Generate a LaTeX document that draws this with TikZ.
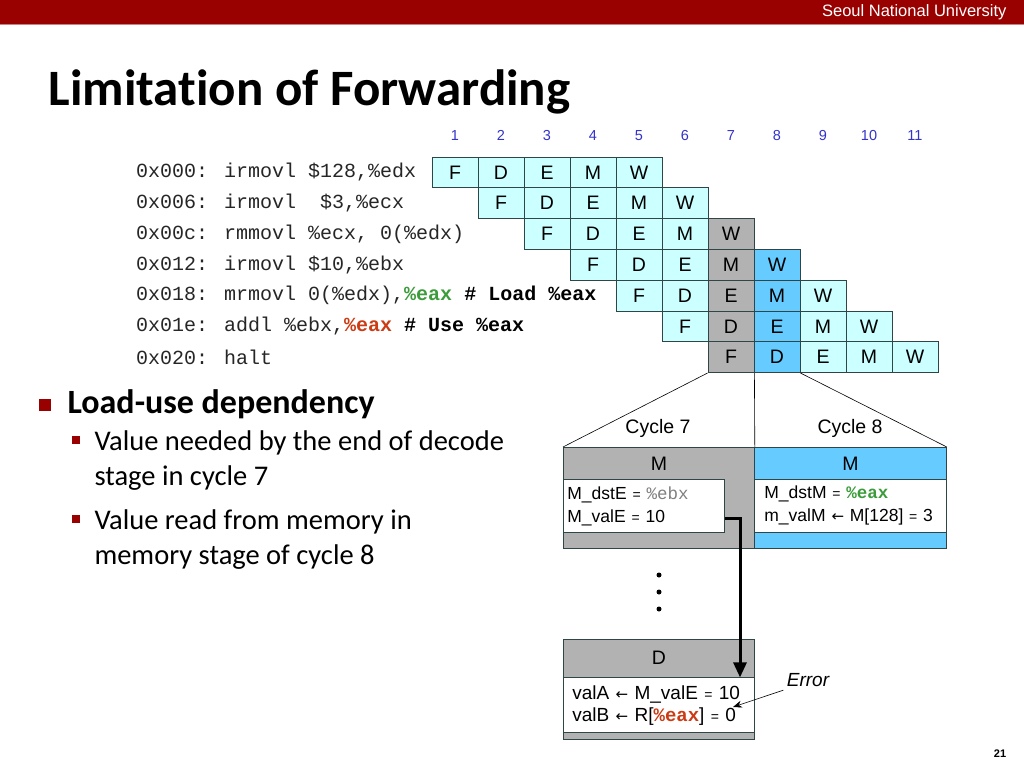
\documentclass[tikz,border=0pt]{standalone}
\usepackage{fontspec}
\setmainfont{Carlito}[Ligatures=NoCommon]
\newfontfamily\arialfont{Liberation Sans}
\newfontfamily\courfont{Liberation Mono}
\newfontfamily\symfont{DejaVu Sans}
\usetikzlibrary{positioning,arrows.meta}
\definecolor{snured}{HTML}{990000}
\definecolor{stagecyan}{HTML}{CCFFFF}
\definecolor{stagegray}{HTML}{B2B2B2}
\definecolor{stageblue}{HTML}{66CCFF}
\definecolor{cyclenum}{HTML}{3333CC}
\definecolor{eaxgreen}{HTML}{3C9C3C}
\definecolor{eaxred}{HTML}{CC3C14}
\definecolor{cellline}{HTML}{2F4646}
\newcommand\lar{{\symfont\fontsize{15}{15}\selectfont ←}}
\newcommand\smeq{{\fontsize{14}{14}\selectfont =}}

\begin{document}
\begin{tikzpicture}[x=1pt,y=-1pt,
	cell/.style={draw=cellline, line width=0.8pt, minimum width=46pt, minimum height=30.8pt,
		inner sep=0pt, font=\arialfont\fontsize{19.5}{20}\selectfont},
	cycnum/.style={text=cyclenum, inner sep=0pt, anchor=base, font=\arialfont\fontsize{14.5}{16}\selectfont},
	codeline/.style={anchor=west, inner sep=0pt, text=black!85, font=\courfont\fontsize{20}{22}\selectfont},
	stagebox/.style={draw=cellline, line width=0.8pt, anchor=north west, inner sep=0pt},
	stagehead/.style={anchor=north, inner sep=0pt, font=\arialfont\fontsize{19.5}{20}\selectfont},
	inbox/.style={draw=cellline, line width=0.8pt, fill=white, anchor=north west, align=left,
		font=\arialfont\fontsize{17.5}{23}\selectfont},
	dot/.style={circle, fill=black, inner sep=0pt, minimum size=5pt},
	fwd/.style={line width=3pt, -{Triangle[length=15pt,width=13pt]}}]
% page and header
\fill[white] (0,0) rectangle (1024,768);
\useasboundingbox (0,0) rectangle (1024,768);
\fill[snured] (0,0) rectangle (1024,24);
\draw[snured!50, line width=1pt] (0,25) -- (1024,25);
\node[anchor=east, text=white, font=\arialfont\fontsize{16.5}{18}\selectfont] (uni) at (1010,12) {Seoul National University};
\node[anchor=west, font=\fontsize{51}{56}\bfseries] (title) at (45,92) {Limitation of Forwarding};
\node[font=\arialfont\bfseries\fontsize{11}{12}\selectfont] (page) at (1000,754) {21};

% cycle numbers
\foreach \k in {1,...,11}
	\node[cycnum] (n\k) at ({455+46*(\k-1)},140.5) {\k};

% pipeline cells
\foreach \r in {0,...,6}{
	\foreach \s [count=\j from 0] in {F,D,E,M,W}{
		\pgfmathtruncatemacro\k{\r+\j+1}
		\edef\cellfill{\ifnum\k=7 stagegray\else\ifnum\k=8 stageblue\else stagecyan\fi\fi}
		\node[cell, fill=\cellfill] (c\r-\k) at ({455+46*(\k-1)},{172.4+30.8*\r}) {\s};
	}
}

% code
\node[codeline] (l0) at (136,172.4) {0x000: irmovl \$128,\%edx};
\node[codeline] (l1) at (136,203.2) {0x006: irmovl\ \ \$3,\%ecx};
\node[codeline] (l2) at (136,234.0) {0x00c: rmmovl \%ecx, 0(\%edx)};
\node[codeline] (l3) at (136,264.8) {0x012: irmovl \$10,\%ebx};
\node[codeline] (l4) at (136,295.6) {0x018: mrmovl 0(\%edx),{\bfseries\color{eaxgreen}\%eax} {\bfseries\color{black}\# Load \%eax}};
\node[codeline] (l5) at (136,326.4) {0x01e: addl \%ebx,{\bfseries\color{eaxred}\%eax} {\bfseries\color{black}\# Use \%eax}};
\node[codeline] (l6) at (136,357.2) {0x020: halt};

% cycle 7 / cycle 8 detail
\node[stagebox, fill=stagegray, minimum width=191pt, minimum height=101pt] (m7) at (563,447) {};
\node[stagebox, fill=stageblue, minimum width=192pt, minimum height=101pt] (m8) at (754,447) {};
\draw[line width=0.6pt] (c6-7.south west) -- (m7.north west);
\draw[line width=0.6pt] (c6-7.south east) -- (m7.north east);
\draw[line width=0.6pt] (c6-8.south east) -- (m8.north east);
\node[font=\arialfont\fontsize{19.5}{20}\selectfont] (cy7) at (658,428) {Cycle 7};
\node[font=\arialfont\fontsize{19.5}{20}\selectfont] (cy8) at (850,428) {Cycle 8};
\node[stagehead, minimum height=34pt] (m7h) at (m7.north) {M};
\node[stagehead, minimum height=34pt] (m8h) at (m8.north) {M};
\node[inbox, text width=153pt, inner xsep=4pt, minimum height=53pt] (m7in) at (563,479)
	{M\_dstE \smeq{} {\courfont\color{gray}\%ebx}\\M\_valE \smeq{} 10};
\node[inbox, text width=172pt, inner xsep=10pt, minimum height=53pt] (m8in) at (754,479)
	{M\_dstM \smeq{} {\courfont\bfseries\color{eaxgreen}\%eax}\\m\_valM \lar{} M[128] \smeq{} 3};

% decode stage
\node[dot] (dt1) at (659,575) {};
\node[dot] (dt2) at (659,592) {};
\node[dot] (dt3) at (659,609) {};
\node[stagebox, fill=stagegray, minimum width=191pt, minimum height=100pt] (d7) at (563,639) {};
\node[stagehead, minimum height=38pt] (d7h) at (d7.north) {D};
\node[inbox, text width=173pt, inner xsep=9pt, minimum height=55pt, font=\arialfont\fontsize{19}{22}\selectfont] (d7in) at (d7h.south -| d7.west)
	{valA \lar{} M\_valE \smeq{} 10\\valB \lar{} R[{\courfont\bfseries\color{eaxred}\%eax}] \smeq{} 0};
\coordinate (turn) at (740,518);
\draw[fwd] (m7in.east |- turn) -- (turn) -- (turn |- d7in.north);
\node[font=\arialfont\itshape\fontsize{19}{20}\selectfont] (err) at (808,680) {Error};
\coordinate (errtip) at (733,707);
\draw[line width=0.6pt, -{Stealth[length=9pt,width=7pt]}] (err.south west) -- (errtip);

% bullets
\node[fill=snured, minimum size=12pt, inner sep=0pt] (b0) at (45,405) {};
\node[anchor=west, font=\fontsize{34}{38}\bfseries] (lu) at (64,404) {Load-use dependency};
\node[fill=snured, minimum size=8pt, inner sep=0pt] (b1) at (76,440) {};
\node[anchor=north west, align=left, font=\fontsize{28.5}{35}\selectfont] (s1) at (91,427)
	{Value needed by the end of decode\\stage in cycle 7};
\node[fill=snured, minimum size=8pt, inner sep=0pt] (b2) at (76,519) {};
\node[anchor=north west, align=left, font=\fontsize{28.5}{35}\selectfont] (s2) at (91,506)
	{Value read from memory in\\memory stage of cycle 8};
\end{tikzpicture}
\end{document}
